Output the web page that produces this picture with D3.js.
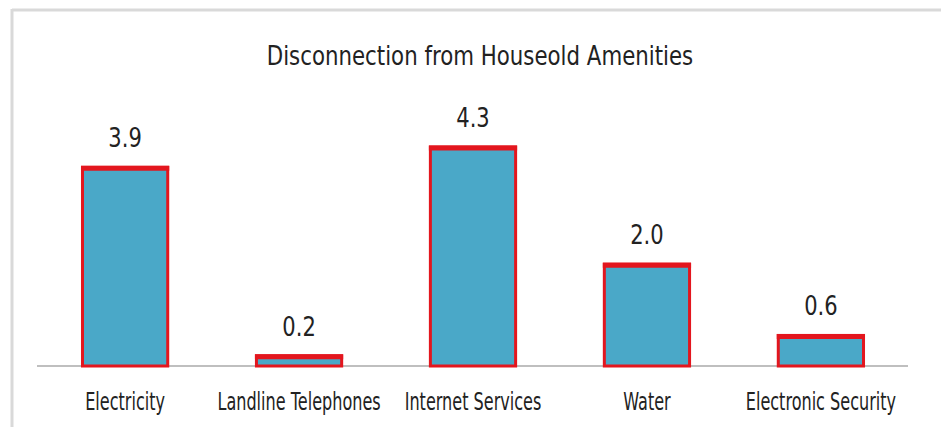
<!DOCTYPE html>
<html>
<head>
<meta charset="utf-8">
<script src="https://cdn.jsdelivr.net/npm/d3@7"></script>
<style>
  body { margin: 0; background: #fff; }
  text { font-family: "DejaVu Sans", sans-serif; fill: #222; }
</style>
</head>
<body>
<svg id="chart" width="941" height="427"></svg>
<script>
// data
const categories = ["Electricity", "Landline Telephones", "Internet Services", "Water", "Electronic Security"];
const values = [3.9, 0.2, 4.3, 2.0, 0.6];
const chartTitle = "Disconnection from Houseold Amenities";

const svg = d3.select("#chart");
const width = 941, height = 427;
const baseY = 366;

// frame of the chart area
svg.append("line")
    .attr("x1", 12).attr("x2", width)
    .attr("y1", 10).attr("y2", 10)
    .attr("stroke", "#d9d9d9").attr("stroke-width", 3);
svg.append("line")
    .attr("x1", 12).attr("x2", 12)
    .attr("y1", 9).attr("y2", height)
    .attr("stroke", "#d9d9d9").attr("stroke-width", 3);

//scales
let x = d3.scaleBand()
    .domain(categories)
    .range([39, 907])
    .paddingInner(0.51)
    .paddingOuter(0.25);

let y = d3.scaleLinear()
    .domain([0, 4.3])
    .range([baseY, 147]);

// baseline
svg.append("line")
    .attr("x1", 37).attr("x2", 908)
    .attr("y1", baseY).attr("y2", baseY)
    .attr("stroke", "#bfbfbf").attr("stroke-width", 2);

// title (condensed look)
svg.append("text")
    .attr("transform", "translate(480,65) scale(0.82,1)")
    .attr("text-anchor", "middle")
    .style("font-size", "26px")
    .text(chartTitle);

let data = categories.map((c, i) => ({cat: c, val: values[i]}));
let cx = d => x(d.cat) + x.bandwidth() / 2;

// bars
svg.selectAll(".bar")
    .data(data)
    .join("rect")
    .attr("class", "bar")
    .attr("x", d => x(d.cat))
    .attr("y", d => y(d.val))
    .attr("width", x.bandwidth())
    .attr("height", d => baseY - y(d.val))
    .attr("fill", "#4aa8c8")
    .attr("stroke", "#e3161e")
    .attr("stroke-width", 3);

// thicker top edge
svg.selectAll(".bar-top")
    .data(data)
    .join("line")
    .attr("class", "bar-top")
    .attr("x1", d => x(d.cat) - 1.5)
    .attr("x2", d => x(d.cat) + x.bandwidth() + 1.5)
    .attr("y1", d => y(d.val) + 1)
    .attr("y2", d => y(d.val) + 1)
    .attr("stroke", "#e3161e")
    .attr("stroke-width", 5);

// value labels
svg.selectAll(".val")
    .data(data)
    .join("text")
    .attr("class", "val")
    .attr("transform", d => "translate(" + cx(d) + "," + (y(d.val) - 20) + ") scale(0.78,1)")
    .attr("text-anchor", "middle")
    .style("font-size", "27px")
    .text(d => d.val.toFixed(1));

// category labels
svg.selectAll(".cat")
    .data(data)
    .join("text")
    .attr("class", "cat")
    .attr("transform", d => "translate(" + cx(d) + ",410) scale(0.67,1)")
    .attr("text-anchor", "middle")
    .style("font-size", "24px")
    .text(d => d.cat);
</script>
</body>
</html>
